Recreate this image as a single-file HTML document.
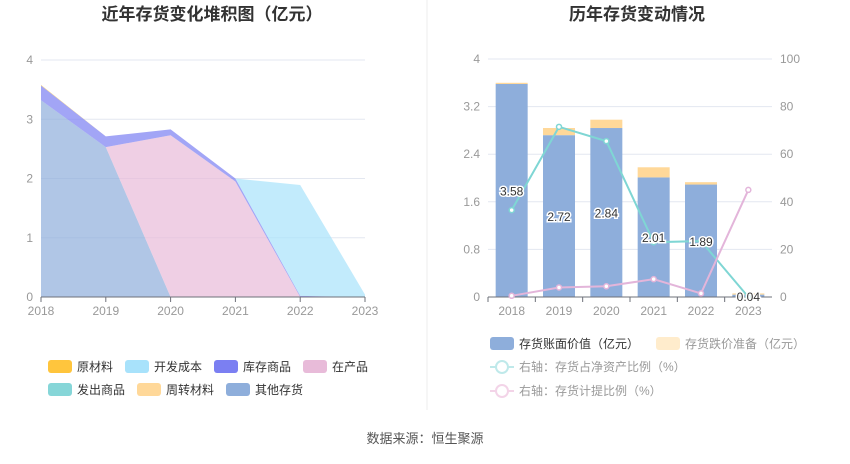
<!DOCTYPE html>
<html><head><meta charset="utf-8">
<style>
body{margin:0;background:#fff;font-family:"Liberation Sans","Noto Sans CJK SC",sans-serif;}
svg text{font-family:"Liberation Sans","Noto Sans CJK SC",sans-serif;}
</style></head>
<body>
<svg width="850" height="459" viewBox="0 0 850 459">
<text x="212" y="20" text-anchor="middle" font-size="17" font-weight="bold" fill="#333">近年存货变化堆积图（亿元）</text>
<text x="637" y="20" text-anchor="middle" font-size="17" font-weight="bold" fill="#333">历年存货变动情况</text>
<line x1="427" y1="0" x2="427" y2="410" stroke="#eee"/>
<g id="left"></g>
<g id="right"></g>
<g font-size="12" fill="#333">
<rect x="48" y="360" width="24" height="13" rx="3" fill="#ffc53d"/><text x="77" y="371">原材料</text>
<rect x="125" y="360" width="24" height="13" rx="3" fill="#a8e2fb"/><text x="154" y="371">开发成本</text>
<rect x="214" y="360" width="24" height="13" rx="3" fill="#7b7ff2"/><text x="243" y="371">库存商品</text>
<rect x="303" y="360" width="24" height="13" rx="3" fill="#e8bbd9"/><text x="332" y="371">在产品</text>
<rect x="48" y="383" width="24" height="13" rx="3" fill="#86d6d8"/><text x="77" y="394">发出商品</text>
<rect x="137" y="383" width="24" height="13" rx="3" fill="#ffd899"/><text x="166" y="394">周转材料</text>
<rect x="226" y="383" width="24" height="13" rx="3" fill="#8eaedb"/><text x="255" y="394">其他存货</text>
</g>
<g font-size="12">
<rect x="490" y="337" width="24" height="13" rx="3" fill="#8eaedb"/><text x="519" y="348" fill="#333">存货账面价值（亿元）</text>
<rect x="656" y="337" width="24" height="13" rx="3" fill="#ffeccc"/><text x="685" y="348" fill="#999">存货跌价准备（亿元）</text>
<line x1="490" y1="367" x2="514" y2="367" stroke="#bfe9ea" stroke-width="2"/><circle cx="502" cy="367" r="6" fill="#fff" stroke="#bfe9ea" stroke-width="2"/><text x="519" y="371" fill="#999">右轴：存货占净资产比例（%）</text>
<line x1="490" y1="391" x2="514" y2="391" stroke="#f3d4e8" stroke-width="2"/><circle cx="502" cy="391" r="6" fill="#fff" stroke="#f3d4e8" stroke-width="2"/><text x="519" y="395" fill="#999">右轴：存货计提比例（%）</text>
</g>
<text x="425" y="443" text-anchor="middle" font-size="13" fill="#555">数据来源：恒生聚源</text>
</svg>
<script>
const years=["2018","2019","2020","2021","2022","2023"];
const leftTicks=[0,1,2,3,4];
const other=[3.32,2.53,0,0,0,0];
const wip=[0,0,2.73,1.95,0,0];
const goods=[0.25,0.18,0.1,0.05,0.02,0];
const devCost=[0,0,0,0,1.87,0.04];
const rawMat=[0.01,0,0,0,0,0];
const bookValue=[3.58,2.72,2.84,2.01,1.89,0.04];
const impairment=[0.02,0.12,0.14,0.17,0.04,0.02];
const netAssetRatio=[36.5,71.5,65.5,23,23.5,0];
const provisionRatio=[0.5,4,4.5,7.5,1.5,45];
const rightTicksL=["0","0.8","1.6","2.4","3.2","4"];
const rightTicksR=[0,20,40,60,80,100];
const NS="http://www.w3.org/2000/svg";
function mk(p,t,a){const e=document.createElementNS(NS,t);for(const k in a)e.setAttribute(k,a[k]);p.appendChild(e);return e;}
// left
const L=document.getElementById('left');
const lx=i=>41+i*(365-41)/5, ly=v=>297-v*(297-60)/4;
leftTicks.forEach(t=>{if(t>0){const g=mk(L,'line',{x1:41,x2:365,y1:ly(t),y2:ly(t),stroke:'#e3e7f0'});}
const tx=mk(L,'text',{x:33,y:ly(t)+4,'text-anchor':'end','font-size':12,fill:'#999'});tx.textContent=t;});
const series=[[other,'#8eaedb','area-other'],[wip,'#e8bbd9','area-wip'],[goods,'#7b7ff2','area-goods'],[devCost,'#a8e2fb','area-dev-cost'],[rawMat,'#ffc53d','area-raw-material']];
let base=years.map(()=>0);
series.forEach(([d,c,n])=>{const top=base.map((b,i)=>b+d[i]);
let pts=top.map((v,i)=>lx(i)+','+ly(v)).concat(base.map((v,i)=>lx(i)+','+ly(v)).reverse());
const p=mk(L,'polygon',{points:pts.join(' '),fill:c,'fill-opacity':n==='area-goods'?0.7:0.7});base=top;});
mk(L,'line',{x1:41,x2:365,y1:297,y2:297,stroke:'#6e7079'});
years.forEach((y,i)=>{mk(L,'line',{x1:lx(i),x2:lx(i),y1:297,y2:302,stroke:'#6e7079'});const t=mk(L,'text',{x:lx(i),y:315,'text-anchor':'middle','font-size':12,fill:'#999'});t.textContent=y;});
// right
const R=document.getElementById('right');
const cw=(772-488)/6, rx=i=>488+cw*(i+0.5), ry=v=>297-v*(297-59)/4, rr=v=>297-v*(297-59)/100;
rightTicksL.forEach((t,i)=>{const v=parseFloat(t);if(v>0)mk(R,'line',{x1:488,x2:772,y1:ry(v),y2:ry(v),stroke:'#e3e7f0'});
const a=mk(R,'text',{x:480,y:ry(v)+4,'text-anchor':'end','font-size':12,fill:'#999'});a.textContent=t;
const b=mk(R,'text',{x:780,y:rr(rightTicksR[i])+4,'font-size':12,fill:'#999'});b.textContent=rightTicksR[i];});
years.forEach((y,i)=>{const bw=32,x=rx(i)-bw/2;
const b=mk(R,'rect',{x:x,y:ry(bookValue[i]),width:bw,height:ry(0)-ry(bookValue[i]),fill:'#8eaedb'});
const c=mk(R,'rect',{x:x,y:ry(bookValue[i]+impairment[i]),width:bw,height:ry(bookValue[i])-ry(bookValue[i]+impairment[i]),fill:'#ffd899'});
const t=mk(R,'text',{x:rx(i),y:315,'text-anchor':'middle','font-size':12,fill:'#999'});t.textContent=y;
mk(R,'line',{x1:488+cw*i,x2:488+cw*i,y1:297,y2:302,stroke:'#6e7079'});});
mk(R,'line',{x1:488,x2:772,y1:297,y2:297,stroke:'#6e7079'});
[[netAssetRatio,'#7fd6d4','line-net-asset-ratio'],[provisionRatio,'#e3b5da','line-provision-ratio']].forEach(([d,c,n])=>{
const pl=mk(R,'polyline',{points:d.map((v,i)=>rx(i)+','+rr(v)).join(' '),fill:'none',stroke:c,'stroke-width':2});
d.forEach((v,i)=>{const p=mk(R,'circle',{cx:rx(i),cy:rr(v),r:2.5,fill:'#fff',stroke:c,'stroke-width':1.5});});});
bookValue.forEach((v,i)=>{const t=mk(R,'text',{x:rx(i),y:ry(v/2)+5,'text-anchor':'middle','font-size':12,fill:'#333',stroke:'#fff','stroke-width':3,'paint-order':'stroke'});t.textContent=v.toFixed(2);});
</script>
</body></html>
